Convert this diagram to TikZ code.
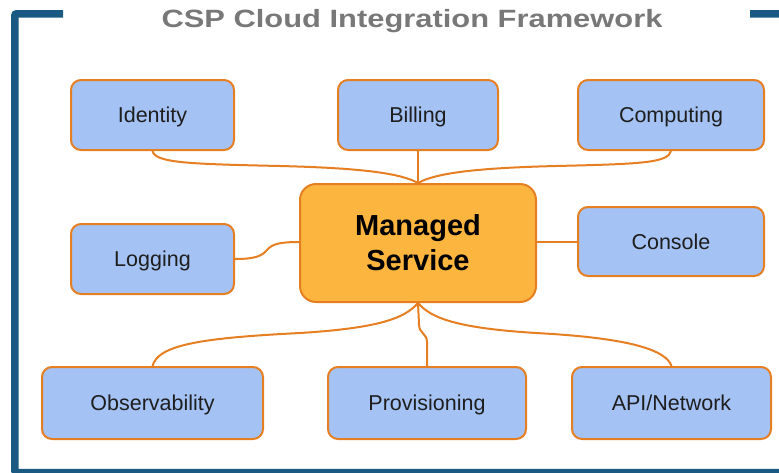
\documentclass[tikz,border=0pt]{standalone}
\usepackage{fontspec}
\setmainfont{Liberation Sans}
\definecolor{framec}{RGB}{26,90,130}
\definecolor{boxfill}{RGB}{164,194,244}
\definecolor{edgec}{RGB}{230,126,34}
\definecolor{corefill}{RGB}{252,182,63}
\definecolor{titlec}{RGB}{120,120,120}
\definecolor{textc}{RGB}{30,30,30}
\begin{document}
\begin{tikzpicture}[x=1pt,y=-1pt,
  svc/.style={draw=edgec, line width=2pt, fill=boxfill, rounded corners=10pt,
    minimum height=70pt, inner sep=0pt, text=textc,
    text height=15.5pt, text depth=0pt,
    font=\fontsize{21.5}{25}\selectfont},
  core/.style={draw=edgec, line width=2pt, fill=corefill, rounded corners=16pt,
    minimum width=236pt, minimum height=118pt, inner sep=0pt, text=black,
    align=center, font=\fontsize{29}{35}\selectfont\bfseries},
  link/.style={draw=edgec, line width=2pt},
  frameline/.style={draw=framec, line width=7.5pt, rounded corners=2pt}]
\useasboundingbox (0,0) rectangle (779,472);
\clip (0,0) rectangle (779,472);

% outer frame, open at the top for the heading
\draw[frameline] (63,13.75) -- (14.75,13.75) -- (14.75,472.5) -- (800,472.5)
  -- (800,13.75) -- (750,13.75);

% heading
\node[anchor=base, inner sep=0pt, text=titlec] (title) at (412,27)
  {\scalebox{1.235}[1]{\fontsize{25}{30}\selectfont\bfseries CSP Cloud Integration Framework}};

% central service and surrounding capabilities
\node[core] (ms) at (418,243) {Managed\\Service};
\node[svc, minimum width=163pt] (id) at (152.5,115) {Identity};
\node[svc, minimum width=160pt] (bill) at (418,115) {Billing};
\node[svc, minimum width=186pt] (comp) at (671,115) {Computing};
\node[svc, minimum width=163pt] (log) at (152.5,259) {Logging};
\node[svc, minimum width=186pt, minimum height=69pt] (con) at (671,241.5) {Console};
\node[svc, minimum width=221pt, minimum height=72pt] (obs) at (152.5,403) {Observability};
\node[svc, minimum width=198pt, minimum height=72pt] (prov) at (427,403) {Provisioning};
\node[svc, minimum width=199pt, minimum height=72pt] (api) at (671.5,403) {API/Network};

% connectors
\draw[link] (id.south) .. controls (155,163) and (190,164) .. (280,166)
  .. controls (360,168) and (400,173) .. (ms.north);
\draw[link] (bill.south) -- (ms.north);
\draw[link] (comp.south) .. controls (668,163) and (640,164) .. (556,166)
  .. controls (476,168) and (436,173) .. (ms.north);
\draw[link] (log.east) .. controls (255,259) and (262,256) .. (267,250)
  .. controls (272,244) and (280,242) .. (ms.west |- 0,242);
\draw[link] (con.west) -- (ms.east |- con.west);
\draw[link] (obs.north) .. controls (158,345) and (200,338) .. (300,333)
  .. controls (380,328) and (405,318) .. (ms.south);
\draw[link] (prov.north) -- (427,342) .. controls (427,333) and (419,334) .. (419,324)
  -- (ms.south);
\draw[link] (api.north) .. controls (666,350) and (630,338) .. (536,333)
  .. controls (456,328) and (431,318) .. (ms.south);
\end{tikzpicture}
\end{document}
